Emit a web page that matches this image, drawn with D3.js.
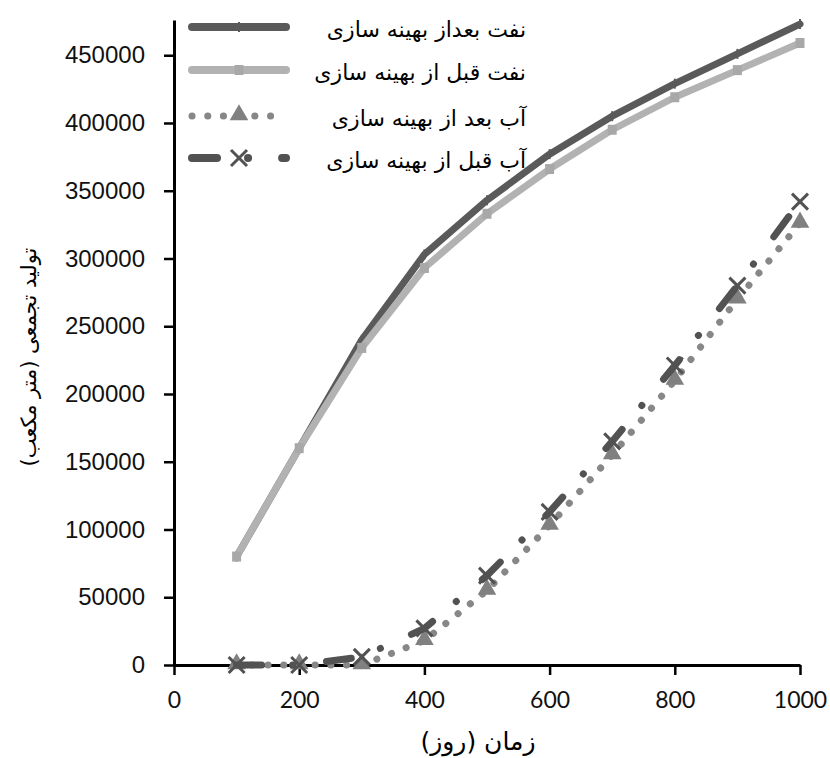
<!DOCTYPE html>
<html>
<head>
<meta charset="utf-8">
<script src="https://cdn.jsdelivr.net/npm/d3@7"></script>
<style>
  body { margin: 0; background: #fff; }
  svg { display: block; }
</style>
</head>
<body>
<div id="chart"></div>
<script>
// values
const days        = [100, 200, 300, 400, 500, 600, 700, 800, 900, 1000];
const oilAfter    = [80000, 160000, 240000, 303000, 343000, 377000, 405000, 429000, 451000, 473000];
const oilBefore   = [80000, 160000, 234000, 293000, 333000, 366000, 395000, 419000, 439000, 459000];
const waterAfter  = [0, 0, 0, 18000, 55000, 103000, 155000, 210000, 270000, 326000];
const waterBefore = [0, 0, 6000, 27000, 66000, 113000, 165000, 221000, 280000, 342000];

const xTicks = [0, 200, 400, 600, 800, 1000];
const yTicks = [0, 50000, 100000, 150000, 200000, 250000, 300000, 350000, 400000, 450000];

const seriesNames = [
  "نفت بعداز بهینه سازی",
  "نفت قبل از بهینه سازی",
  "آب بعد از بهینه سازی",
  "آب قبل از بهینه سازی"
];

const width = 830, height = 758;
const m = { top: 20, right: 30, bottom: 93, left: 174 };

const svg = d3.select("#chart").append("svg")
  .attr("width", width)
  .attr("height", height);

const x = d3.scaleLinear().domain([0, 1000]).range([m.left, width - m.right]);
const y = d3.scaleLinear().domain([0, 476000]).range([height - m.bottom, m.top]);

// ----- styles per series -----
const series = [
  { name: seriesNames[0], values: oilAfter,    color: "#5a5a5a", width: 7, legendWidth: 8, dash: null,            marker: "dash" },
  { name: seriesNames[1], values: oilBefore,   color: "#b2b2b2", width: 7, legendWidth: 8, dash: null,            marker: "square" },
  { name: seriesNames[2], values: waterAfter,  color: "#878787", width: 7, legendWidth: 7, dash: "0.1,15.6",      marker: "triangle" },
  { name: seriesNames[3], values: waterBefore, color: "#525252", width: 7, legendWidth: 8, dash: "25,31,0.1,34",  marker: "x" }
];

// ----- axes -----
const xAxis = svg.append("g")
  .attr("transform", `translate(0,${y(0)})`)
  .call(d3.axisBottom(x).tickValues(xTicks).tickFormat(d3.format("d"))
    .tickSize(10).tickSizeOuter(0).tickPadding(17));
xAxis.selectAll("text")
  .attr("font-family", "Lato, 'Open Sans', sans-serif")
  .attr("font-size", 23)
  .attr("fill", "#111");

const yAxis = svg.append("g")
  .attr("transform", `translate(${m.left},0)`)
  .call(d3.axisLeft(y).tickValues(yTicks).tickFormat(d3.format("d"))
    .tickSize(10).tickSizeOuter(0).tickPadding(19));
yAxis.selectAll("text")
  .attr("font-family", "'Liberation Sans', Arial, sans-serif")
  .attr("font-size", 24)
  .attr("fill", "#111");

svg.selectAll(".domain").attr("stroke", "#000").attr("stroke-width", 3);
svg.selectAll(".tick line").attr("stroke", "#000").attr("stroke-width", 2.5);

// axis titles
svg.append("text")
  .attr("x", 478)
  .attr("y", 750)
  .attr("text-anchor", "middle")
  .attr("direction", "rtl")
  .attr("font-family", "'DejaVu Sans', sans-serif")
  .attr("font-size", 25)
  .text("زمان (روز)");

svg.append("text")
  .attr("transform", "translate(36,357) rotate(-90)")
  .attr("text-anchor", "middle")
  .attr("direction", "rtl")
  .attr("font-family", "'DejaVu Sans', sans-serif")
  .attr("font-size", 21)
  .text("تولید تجمعی (متر مکعب)");

// ----- lines -----
const line = d3.line()
  .x((d, i) => x(days[i]))
  .y(d => y(d));

function drawMarker(g, type, cx, cy, color) {
  if (type === "dash") {
    g.append("line")
      .attr("x1", cx).attr("x2", cx).attr("y1", cy - 5).attr("y2", cy + 5)
      .attr("stroke", color).attr("stroke-width", 2);
  } else if (type === "square") {
    g.append("rect")
      .attr("x", cx - 4.5).attr("y", cy - 5).attr("width", 9).attr("height", 10)
      .attr("fill", "#a8a8a8");
  } else if (type === "triangle") {
    g.append("path")
      .attr("d", d3.symbol(d3.symbolTriangle, 150)())
      .attr("transform", `translate(${cx},${cy - 1})`)
      .attr("fill", "#808080");
  } else if (type === "x") {
    g.append("path")
      .attr("d", `M${cx - 8},${cy - 8}L${cx + 8},${cy + 8}M${cx - 8},${cy + 8}L${cx + 8},${cy - 8}`)
      .attr("stroke", color).attr("stroke-width", 3);
  }
}

const plot = svg.append("g");

series.forEach(s => {
  plot.append("path")
    .datum(s.values)
    .attr("fill", "none")
    .attr("stroke", s.color)
    .attr("stroke-width", s.width)
    .attr("stroke-linecap", "round")
    .attr("stroke-linejoin", "round")
    .attr("stroke-dasharray", s.dash)
    .attr("d", line);

  const mg = plot.append("g");
  s.values.forEach((v, i) => drawMarker(mg, s.marker, x(days[i]), y(v), s.color));
});

// ----- legend -----
const legendRows = [27, 70, 116, 158];
const legend = svg.append("g");

series.forEach((s, i) => {
  const ly = legendRows[i];
  legend.append("line")
    .attr("x1", 192).attr("x2", 286)
    .attr("y1", ly).attr("y2", ly)
    .attr("stroke", s.color)
    .attr("stroke-width", s.legendWidth)
    .attr("stroke-linecap", "round")
    .attr("stroke-dasharray", s.dash);
  drawMarker(legend, s.marker, 239, ly, s.color);

  legend.append("text")
    .attr("x", 526)
    .attr("y", ly + 10)
    .attr("text-anchor", "start")
    .attr("direction", "rtl")
    .attr("font-family", "'DejaVu Sans', sans-serif")
    .attr("font-size", 22)
    .text(s.name);
});
</script>
</body>
</html>
